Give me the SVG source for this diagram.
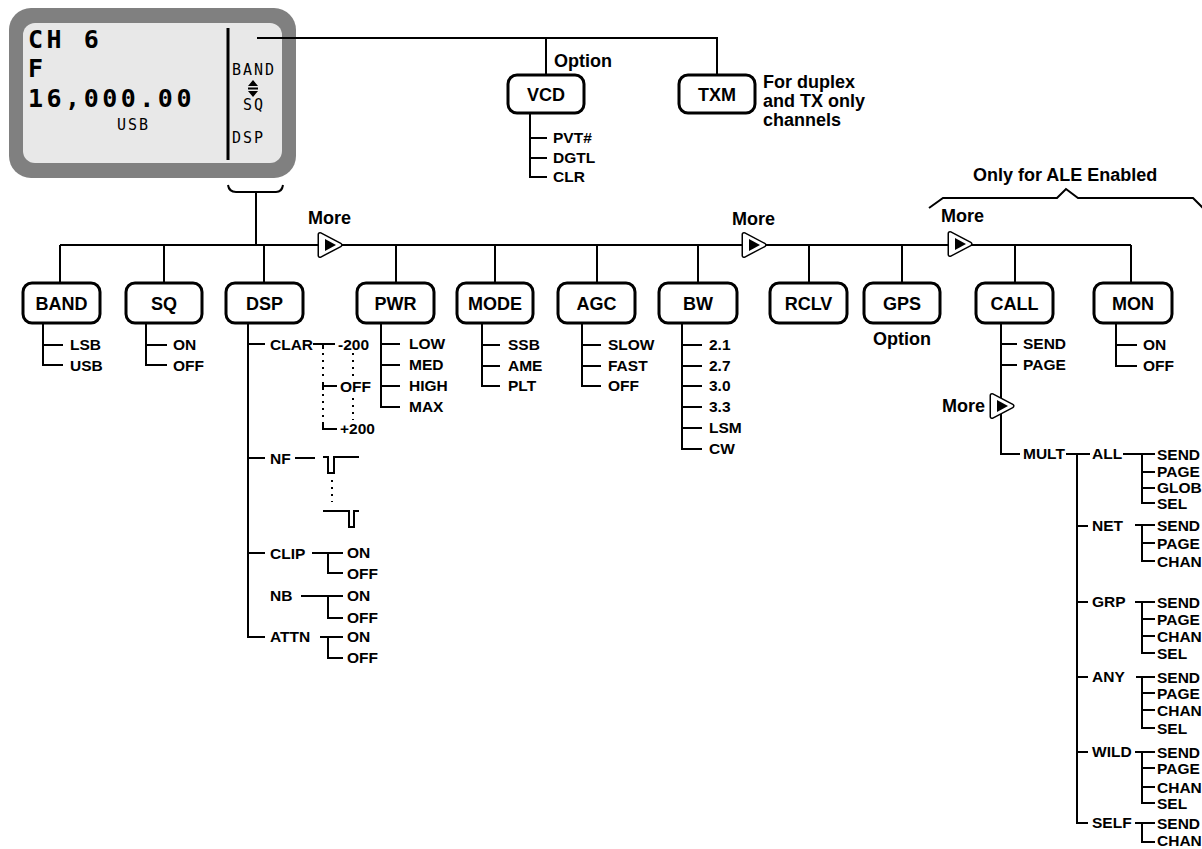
<svg xmlns="http://www.w3.org/2000/svg" width="1202" height="849" viewBox="0 0 1202 849">
<style>
.ln{stroke:#000;stroke-width:2;fill:none}
.dot{stroke:#000;stroke-width:2;fill:none;stroke-dasharray:2 5}
.box{fill:#fff;stroke:#000;stroke-width:3}
.bl{font-family:"Liberation Sans",Arial,sans-serif;font-weight:bold;font-size:18px;text-anchor:middle;fill:#000}
.it{font-family:"Liberation Sans",Arial,sans-serif;font-weight:bold;font-size:15.5px;fill:#000}
.lb{font-family:"Liberation Sans",Arial,sans-serif;font-weight:bold;font-size:18px;fill:#000}
.lcd{font-family:"DejaVu Sans Mono",monospace;font-weight:bold;fill:#000}
.lcs{font-family:"DejaVu Sans Mono",monospace;font-size:15px;letter-spacing:2px;fill:#000}
</style>
<defs>
<g id="more">
<path d="M-10,-10.5 L10,0 L-10,10.5 Z" fill="#fff" stroke="#000" stroke-width="5" stroke-linejoin="round"/>
<path d="M-10,-10.5 L10,0 L-10,10.5 Z" fill="#fff" stroke="#fff" stroke-width="2" stroke-linejoin="round"/>
<path d="M-5,-6 L6,0 L-5,6 Z" fill="#000"/>
</g>
</defs>

<g id="display">
<rect x="9" y="8" width="287" height="170" rx="22" fill="#808080"/>
<rect x="23" y="23" width="259" height="140" rx="12" fill="#e8e8e8"/>
<line x1="228" y1="28" x2="228" y2="160" stroke="#000" stroke-width="3"/>
<text class="lcd" x="28" y="48" font-size="25" letter-spacing="3.5">CH 6</text>
<text class="lcd" x="28" y="77" font-size="25" letter-spacing="3.5">F</text>
<text class="lcd" x="28" y="107" font-size="25" letter-spacing="3.5">16,000.00</text>
<text class="lcs" x="117" y="130">USB</text>
<text class="lcs" x="232" y="75">BAND</text>
<path d="M248,86 L253,80 L258,86 Z M248,91 L253,97 L258,91 Z" fill="#000"/>
<rect x="248" y="87.5" width="10" height="2" fill="#000"/>
<text class="lcs" x="243" y="110">SQ</text>
<text class="lcs" x="232" y="143">DSP</text>
<path class="ln" d="M228,185 Q229,192 236,192 H276 Q282,192 283,185"/>
</g>

<g id="connectors">
<path class="ln" d="M257,38 H717 V75 M546,38 V75"/>
<path class="ln" d="M530,113 V177 H547 M530,138 H547 M530,158 H547"/>
<path class="ln" d="M256,192 V245 M60,245 H1131"/>
<path class="ln" d="M60,245 V283 M164,245 V283 M264,245 V283 M396,245 V283 M495,245 V283 M597,245 V283 M698,245 V283 M809,245 V283 M902,245 V283 M1015,245 V283 M1131,245 V283"/>
<path class="ln" d="M929,208 L943,198 H1057 L1066,189 L1078,198 H1193 L1203,208" stroke-width="3"/>
<!-- BAND -->
<path class="ln" d="M43,323 V365 H63 M43,345 H63"/>
<!-- SQ -->
<path class="ln" d="M146,323 V365 H167 M146,345 H167"/>
<!-- DSP -->
<path class="ln" d="M248,323 V637 H265 M248,344 H265 M248,458 H265 M248,553 H265"/>
<path class="ln" d="M313,344 H335 M323,344 V349 M323,382 V390 M323,386 H337 M323,422 V429 H337"/>
<path class="dot" d="M323,353 V380 M323,394 V420 M353,353 V378 M353,398 V420"/>
<path class="ln" d="M295,458 H315 M323,457 H328 V473 H334 V457 H359 M323,511 H349 V527 H354 V511 H359"/>
<path class="dot" d="M332,480 V502"/>
<path class="ln" d="M312,553 H343 M328,553 V573 H343"/>
<path class="ln" d="M301,596 H343 M328,596 V618 H343"/>
<path class="ln" d="M320,637 H343 M328,637 V658 H343"/>
<!-- PWR -->
<path class="ln" d="M381,323 V407 H400 M381,344 H400 M381,365 H400 M381,386 H400"/>
<!-- MODE -->
<path class="ln" d="M482,323 V386 H500 M482,345 H500 M482,366 H500"/>
<!-- AGC -->
<path class="ln" d="M582,323 V386 H601 M582,345 H601 M582,366 H601"/>
<!-- BW -->
<path class="ln" d="M682,323 V449 H702 M682,345 H702 M682,366 H702 M682,386 H702 M682,407 H702 M682,428 H702"/>
<!-- CALL -->
<path class="ln" d="M1001,323 V454 H1020 M1001,344 H1017 M1001,365 H1017"/>
<!-- MON -->
<path class="ln" d="M1116,323 V366 H1137 M1116,345 H1137"/>
<!-- MULT -->
<path class="ln" d="M1066,454 H1090 M1077,454 V823 H1088 M1077,526 H1088 M1077,602 H1088 M1077,677 H1088 M1077,752 H1088"/>
<path class="ln" d="M1123,454 H1155 M1142,454 V503 H1155 M1142,472 H1155 M1142,488 H1155"/>
<path class="ln" d="M1135,525 H1155 M1142,525 V561 H1155 M1142,543 H1155"/>
<path class="ln" d="M1135,602 H1155 M1142,602 V653 H1155 M1142,619 H1155 M1142,636 H1155"/>
<path class="ln" d="M1136,677 H1155 M1142,677 V728 H1155 M1142,693 H1155 M1142,710 H1155"/>
<path class="ln" d="M1135,752 H1155 M1142,752 V803 H1155 M1142,768 H1155 M1142,787 H1155"/>
<path class="ln" d="M1135,823 H1155 M1142,823 V842 H1155"/>
<use href="#more" x="330" y="245"/>
<use href="#more" x="754" y="245"/>
<use href="#more" x="960" y="244"/>
<use href="#more" x="1002" y="406"/>
</g>

<g id="labels">
<text class="lb" x="554" y="67">Option</text>
<text class="lb" x="763" y="88">For duplex</text>
<text class="lb" x="763" y="107">and TX only</text>
<text class="lb" x="763" y="126">channels</text>
<text class="lb" x="973" y="181">Only for ALE Enabled</text>
<text class="lb" x="308" y="224">More</text>
<text class="lb" x="732" y="225">More</text>
<text class="lb" x="941" y="222">More</text>
<text class="lb" x="942" y="412">More</text>
<text class="lb" x="902" y="345" text-anchor="middle">Option</text>
</g>

<g id="node-vcd">
<rect class="box" x="508" y="75" width="76" height="38" rx="9"/>
<text class="bl" x="546" y="100.5">VCD</text>
<text class="it" x="553" y="143">PVT#</text>
<text class="it" x="553" y="163">DGTL</text>
<text class="it" x="553" y="182">CLR</text>
</g>
<g id="node-txm">
<rect class="box" x="679" y="75" width="76" height="38" rx="9"/>
<text class="bl" x="717" y="100.5">TXM</text>
</g>

<g id="node-band">
<rect class="box" x="23" y="283" width="77" height="40" rx="9"/>
<text class="bl" x="61.5" y="309.5">BAND</text>
<text class="it" x="70" y="350">LSB</text>
<text class="it" x="70" y="371">USB</text>
</g>
<g id="node-sq">
<rect class="box" x="126" y="283" width="76" height="40" rx="9"/>
<text class="bl" x="164" y="309.5">SQ</text>
<text class="it" x="173" y="350">ON</text>
<text class="it" x="173" y="371">OFF</text>
</g>
<g id="node-dsp">
<rect class="box" x="226" y="283" width="77" height="40" rx="9"/>
<text class="bl" x="264.5" y="309.5">DSP</text>
<text class="it" x="270" y="350">CLAR</text>
<text class="it" x="338" y="350">-200</text>
<text class="it" x="340" y="392">OFF</text>
<text class="it" x="340" y="434">+200</text>
<text class="it" x="270" y="464">NF</text>
<text class="it" x="270" y="559">CLIP</text>
<text class="it" x="347" y="558">ON</text>
<text class="it" x="347" y="579">OFF</text>
<text class="it" x="270" y="601">NB</text>
<text class="it" x="347" y="601">ON</text>
<text class="it" x="347" y="623">OFF</text>
<text class="it" x="270" y="642">ATTN</text>
<text class="it" x="347" y="642">ON</text>
<text class="it" x="347" y="663">OFF</text>
</g>
<g id="node-pwr">
<rect class="box" x="357" y="283" width="77" height="40" rx="9"/>
<text class="bl" x="395.5" y="309.5">PWR</text>
<text class="it" x="409" y="349">LOW</text>
<text class="it" x="409" y="370">MED</text>
<text class="it" x="409" y="391">HIGH</text>
<text class="it" x="409" y="412">MAX</text>
</g>
<g id="node-mode">
<rect class="box" x="457" y="283" width="76" height="40" rx="9"/>
<text class="bl" x="495" y="309.5">MODE</text>
<text class="it" x="508" y="350">SSB</text>
<text class="it" x="508" y="371">AME</text>
<text class="it" x="508" y="391">PLT</text>
</g>
<g id="node-agc">
<rect class="box" x="558" y="283" width="77" height="40" rx="9"/>
<text class="bl" x="596.5" y="309.5">AGC</text>
<text class="it" x="608" y="350">SLOW</text>
<text class="it" x="608" y="371">FAST</text>
<text class="it" x="608" y="391">OFF</text>
</g>
<g id="node-bw">
<rect class="box" x="659" y="283" width="78" height="40" rx="9"/>
<text class="bl" x="698" y="309.5">BW</text>
<text class="it" x="709" y="350">2.1</text>
<text class="it" x="709" y="371">2.7</text>
<text class="it" x="709" y="391">3.0</text>
<text class="it" x="709" y="412">3.3</text>
<text class="it" x="709" y="433">LSM</text>
<text class="it" x="709" y="454">CW</text>
</g>
<g id="node-rclv">
<rect class="box" x="770" y="283" width="77" height="40" rx="9"/>
<text class="bl" x="808.5" y="309.5">RCLV</text>
</g>
<g id="node-gps">
<rect class="box" x="864" y="283" width="76" height="40" rx="9"/>
<text class="bl" x="902" y="309.5">GPS</text>
</g>
<g id="node-call">
<rect class="box" x="976" y="283" width="77" height="40" rx="9"/>
<text class="bl" x="1014.5" y="309.5">CALL</text>
<text class="it" x="1023" y="349">SEND</text>
<text class="it" x="1023" y="370">PAGE</text>
<text class="it" x="1023" y="459">MULT</text>
</g>
<g id="node-mon">
<rect class="box" x="1094" y="283" width="78" height="40" rx="9"/>
<text class="bl" x="1133" y="309.5">MON</text>
<text class="it" x="1143" y="350">ON</text>
<text class="it" x="1143" y="371">OFF</text>
</g>
<g id="node-mult">
<text class="it" x="1092" y="459">ALL</text>
<text class="it" x="1157" y="460">SEND</text>
<text class="it" x="1157" y="477">PAGE</text>
<text class="it" x="1157" y="493">GLOB</text>
<text class="it" x="1157" y="509">SEL</text>
<text class="it" x="1092" y="531">NET</text>
<text class="it" x="1157" y="531">SEND</text>
<text class="it" x="1157" y="549">PAGE</text>
<text class="it" x="1157" y="567">CHAN</text>
<text class="it" x="1092" y="607">GRP</text>
<text class="it" x="1157" y="608">SEND</text>
<text class="it" x="1157" y="625">PAGE</text>
<text class="it" x="1157" y="642">CHAN</text>
<text class="it" x="1157" y="659">SEL</text>
<text class="it" x="1092" y="682">ANY</text>
<text class="it" x="1157" y="683">SEND</text>
<text class="it" x="1157" y="699">PAGE</text>
<text class="it" x="1157" y="716">CHAN</text>
<text class="it" x="1157" y="734">SEL</text>
<text class="it" x="1092" y="757">WILD</text>
<text class="it" x="1157" y="758">SEND</text>
<text class="it" x="1157" y="774">PAGE</text>
<text class="it" x="1157" y="793">CHAN</text>
<text class="it" x="1157" y="809">SEL</text>
<text class="it" x="1092" y="828">SELF</text>
<text class="it" x="1157" y="829">SEND</text>
<text class="it" x="1157" y="846">CHAN</text>
</g>
</svg>
